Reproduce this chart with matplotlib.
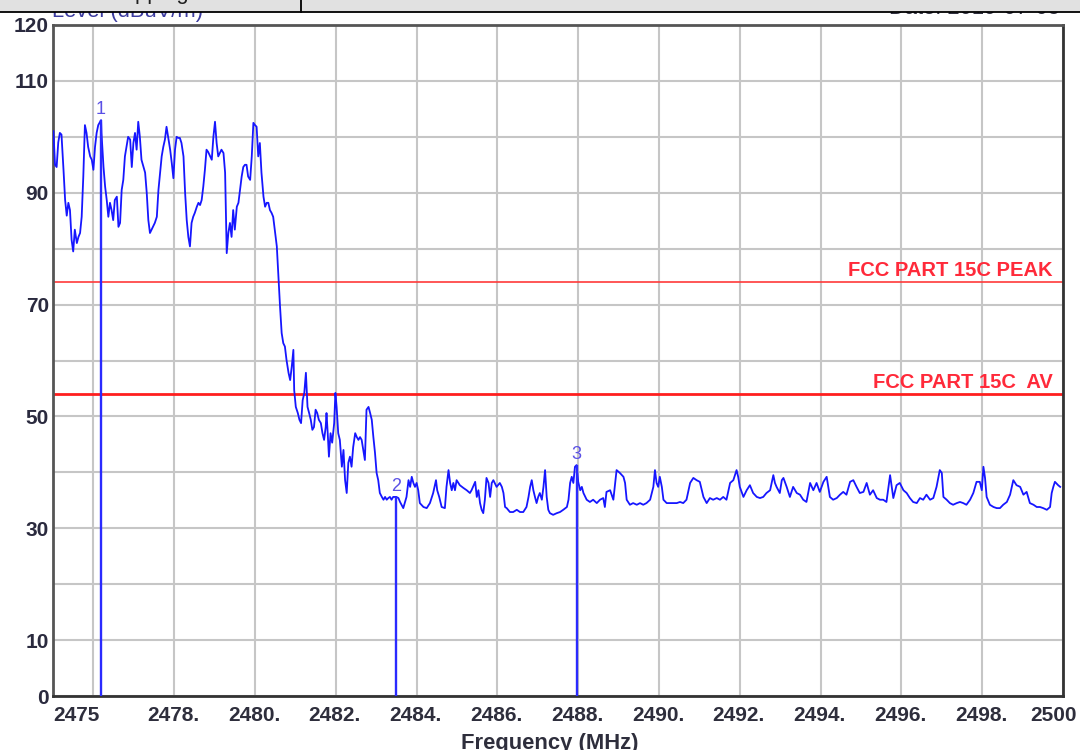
import matplotlib
matplotlib.use("Agg")
import matplotlib.pyplot as plt
from matplotlib.patches import Rectangle
from matplotlib.lines import Line2D
from matplotlib.transforms import Bbox

plt.rcParams['font.family'] = ['Liberation Sans', 'DejaVu Sans']

# ---- measured sweep (frequency in MHz, level in dBuV/m) ----
FREQ_INBAND = [
    2475.01, 2475.05, 2475.09, 2475.13, 2475.17, 2475.21, 2475.26, 2475.30, 2475.34, 2475.38,
    2475.42, 2475.46, 2475.50, 2475.54, 2475.59, 2475.63, 2475.67, 2475.71, 2475.75, 2475.79,
    2475.83, 2475.87, 2475.92, 2475.96, 2476.00, 2476.04, 2476.08, 2476.12, 2476.16, 2476.19,
    2476.20, 2476.25, 2476.29, 2476.33, 2476.37, 2476.41, 2476.45, 2476.49, 2476.53, 2476.58,
    2476.62, 2476.66, 2476.70, 2476.74, 2476.78, 2476.82, 2476.86, 2476.91, 2476.95, 2476.99,
    2477.03, 2477.07, 2477.11, 2477.15, 2477.19, 2477.24, 2477.28, 2477.32, 2477.36, 2477.40,
    2477.44, 2477.48, 2477.52, 2477.57, 2477.61, 2477.65, 2477.69, 2477.73, 2477.77, 2477.81,
    2477.85, 2477.90, 2477.94, 2477.98, 2478.02, 2478.06, 2478.10, 2478.14, 2478.18, 2478.23,
    2478.27, 2478.31, 2478.35, 2478.39, 2478.43, 2478.47, 2478.51, 2478.56, 2478.60, 2478.64,
    2478.68, 2478.72, 2478.76, 2478.80, 2478.84, 2478.89, 2478.93, 2478.97, 2479.01, 2479.05,
    2479.09, 2479.13, 2479.17, 2479.22, 2479.26, 2479.30, 2479.34, 2479.38, 2479.42, 2479.46,
    2479.50, 2479.55, 2479.59, 2479.63, 2479.67, 2479.71, 2479.75, 2479.79, 2479.83, 2479.88,
    2479.92, 2479.96, 2480.00, 2480.04, 2480.08, 2480.12, 2480.16, 2480.21, 2480.25, 2480.29,
    2480.33, 2480.37, 2480.41, 2480.45, 2480.49, 2480.54,
]
LEVEL_INBAND = [
    101.0, 95.0, 94.6, 99.0, 100.7, 100.4, 94.1, 88.7, 85.9, 88.2,
    86.9, 81.6, 79.5, 83.4, 81.0, 82.1, 82.8, 85.7, 92.9, 102.1,
    100.7, 98.2, 96.5, 95.9, 94.1, 98.2, 100.7, 102.1, 102.6, 103.0,
    100.7, 94.6, 91.1, 88.7, 85.7, 88.2, 86.9, 85.1, 88.7, 89.3,
    83.9, 84.6, 90.5, 92.3, 96.5, 98.2, 100.0, 99.5, 94.6, 98.9,
    100.7, 97.7, 102.7, 100.0, 95.9, 94.6, 93.6, 90.0, 85.1, 82.8,
    83.4, 84.0, 84.6, 85.7, 90.5, 93.6, 96.5, 98.2, 99.5, 101.8,
    100.0, 97.7, 95.3, 92.6, 97.7, 100.0, 99.8, 99.8, 98.9, 96.5,
    90.0, 85.1, 82.1, 80.4, 84.6, 85.7, 86.4, 87.5, 88.2, 87.8,
    88.7, 91.1, 94.1, 97.7, 97.3, 96.5, 95.9, 100.0, 102.7, 98.9,
    96.5, 97.1, 97.7, 97.1, 93.6, 79.2, 82.8, 84.6, 82.1, 86.9,
    83.4, 87.5, 88.2, 90.5, 92.9, 94.6, 95.0, 95.0, 92.9, 92.3,
    96.5, 102.5, 102.1, 101.8, 96.5, 98.9, 93.6, 89.3, 87.5, 88.2,
    88.2, 86.9, 86.4, 85.7, 83.4, 80.4,
]

FREQ_EDGE = [
    2480.58, 2480.62, 2480.66, 2480.70, 2480.74, 2480.78, 2480.83, 2480.87, 2480.91, 2480.95,
    2480.97, 2481.01, 2481.06, 2481.10, 2481.14, 2481.18, 2481.22, 2481.26, 2481.30, 2481.34,
    2481.38, 2481.42, 2481.46, 2481.50, 2481.54, 2481.58, 2481.63, 2481.67, 2481.71, 2481.75,
    2481.77, 2481.80, 2481.83, 2481.87, 2481.91, 2481.96, 2481.99, 2482.02, 2482.06, 2482.10,
    2482.15, 2482.19, 2482.23, 2482.27, 2482.31, 2482.35, 2482.39, 2482.43, 2482.48, 2482.52,
    2482.56, 2482.60, 2482.64, 2482.68, 2482.72, 2482.76, 2482.81, 2482.85, 2482.89, 2482.93,
    2482.97, 2483.01, 2483.05, 2483.09, 2483.14, 2483.18, 2483.22, 2483.26, 2483.30, 2483.34,
    2483.38, 2483.42, 2483.47, 2483.50,
]
LEVEL_EDGE = [
    75.0, 69.6, 64.9, 63.1, 62.5, 60.1, 57.8, 56.5, 58.9, 61.9,
    54.7, 51.7, 50.6, 49.4, 48.8, 52.9, 54.2, 57.8, 51.7, 50.6,
    49.4, 47.6, 48.1, 51.2, 50.6, 49.4, 48.8, 47.0, 45.8, 48.1,
    50.6, 47.0, 42.8, 47.0, 45.3, 48.8, 54.2, 51.7, 47.0, 45.8,
    41.0, 44.0, 38.6, 36.3, 41.7, 42.8, 41.0, 44.5, 47.0, 46.3,
    45.8, 46.3, 45.8, 44.0, 42.2, 51.2, 51.7, 50.6, 49.4, 46.3,
    43.5, 39.9, 38.6, 36.3, 35.6, 35.1, 35.6, 35.1, 35.4, 35.6,
    35.1, 35.6, 35.6, 35.6,
]

FREQ_RESTRICTED_LO = [
    2483.55, 2483.59, 2483.67, 2483.75, 2483.80, 2483.84, 2483.88, 2483.92, 2483.96, 2484.00,
    2484.04, 2484.08, 2484.17, 2484.25, 2484.33, 2484.41, 2484.48, 2484.51, 2484.56, 2484.62,
    2484.70, 2484.74, 2484.79, 2484.83, 2484.87, 2484.91, 2484.95, 2484.99, 2485.07, 2485.16,
    2485.24, 2485.32, 2485.36, 2485.45, 2485.49, 2485.53, 2485.57, 2485.61, 2485.65, 2485.69,
    2485.73, 2485.78, 2485.82, 2485.86, 2485.90, 2485.98, 2486.06, 2486.11, 2486.15, 2486.19,
    2486.23, 2486.31, 2486.39, 2486.48, 2486.56, 2486.64, 2486.72, 2486.77, 2486.81, 2486.85,
    2486.89, 2486.93, 2486.97, 2487.01, 2487.05, 2487.10, 2487.14, 2487.18, 2487.22, 2487.26,
    2487.30, 2487.38, 2487.47, 2487.55, 2487.63, 2487.72, 2487.76, 2487.80, 2487.84, 2487.88,
    2487.92, 2487.96, 2488.00, 2488.05, 2488.09, 2488.13, 2488.21, 2488.29, 2488.37, 2488.46,
    2488.54, 2488.62, 2488.66, 2488.70, 2488.79, 2488.87, 2488.95, 2489.03, 2489.12, 2489.16,
    2489.20, 2489.28, 2489.36, 2489.45, 2489.53, 2489.61, 2489.69, 2489.78, 2489.86, 2489.90,
    2489.94, 2489.98, 2490.02, 2490.07, 2490.11, 2490.19, 2490.27, 2490.35, 2490.44, 2490.52,
    2490.60, 2490.68, 2490.77, 2490.85, 2490.93, 2491.01,
]
LEVEL_RESTRICTED_LO = [
    35.4, 34.7, 33.6, 35.6, 38.6, 37.4, 39.2, 38.1, 37.4, 38.1,
    36.8, 34.5, 33.8, 33.6, 34.5, 36.3, 38.6, 36.8, 35.6, 33.8,
    33.6, 37.4, 40.4, 38.1, 36.8, 38.1, 36.8, 38.6, 37.7, 37.2,
    36.8, 36.3, 36.8, 38.3, 35.6, 36.8, 34.5, 33.3, 32.7, 35.1,
    39.0, 38.1, 35.6, 38.1, 38.6, 37.4, 38.1, 37.4, 36.3, 33.8,
    33.6, 32.9, 32.9, 33.3, 32.9, 32.9, 33.8, 35.6, 37.4, 38.6,
    36.8, 35.6, 34.5, 35.6, 36.3, 35.1, 37.4, 40.4, 35.6, 33.3,
    32.7, 32.4, 32.7, 32.9, 33.3, 33.8, 35.1, 38.1, 39.2, 38.1,
    41.0, 41.3, 38.3, 36.8, 37.4, 36.3, 35.1, 34.7, 35.1, 34.5,
    35.1, 35.4, 33.8, 36.5, 36.8, 35.1, 40.4, 39.9, 39.2, 38.1,
    35.1, 34.2, 34.5, 34.2, 34.5, 34.2, 34.5, 35.1, 37.4, 40.4,
    38.1, 37.4, 39.2, 37.4, 35.1, 34.5, 34.5, 34.5, 34.5, 34.7,
    34.5, 35.1, 38.1, 39.0, 38.6, 38.3,
]

FREQ_RESTRICTED_HI = [
    2491.10, 2491.18, 2491.26, 2491.34, 2491.43, 2491.51, 2491.59, 2491.67, 2491.76, 2491.84,
    2491.92, 2491.96, 2492.00, 2492.09, 2492.17, 2492.25, 2492.33, 2492.42, 2492.50, 2492.58,
    2492.66, 2492.75, 2492.83, 2492.87, 2492.91, 2492.99, 2493.04, 2493.08, 2493.16, 2493.24,
    2493.32, 2493.41, 2493.49, 2493.57, 2493.65, 2493.74, 2493.82, 2493.90, 2493.98, 2494.07,
    2494.15, 2494.23, 2494.31, 2494.40, 2494.48, 2494.56, 2494.64, 2494.73, 2494.81, 2494.89,
    2494.97, 2495.06, 2495.14, 2495.22, 2495.30, 2495.39, 2495.47, 2495.55, 2495.63, 2495.72,
    2495.76, 2495.80, 2495.88, 2495.96, 2496.05, 2496.13, 2496.21, 2496.29, 2496.38, 2496.46,
    2496.54, 2496.62, 2496.71, 2496.79, 2496.87, 2496.95, 2497.00, 2497.04, 2497.12, 2497.20,
    2497.28, 2497.37, 2497.45, 2497.53, 2497.61, 2497.70, 2497.78, 2497.86, 2497.94, 2497.99,
    2498.03, 2498.07, 2498.11, 2498.19, 2498.28, 2498.36, 2498.44, 2498.52, 2498.61, 2498.69,
    2498.77, 2498.85, 2498.94, 2499.02, 2499.10, 2499.18, 2499.27, 2499.35, 2499.43, 2499.51,
    2499.60, 2499.68, 2499.72, 2499.76, 2499.80, 2499.88, 2499.93,
]
LEVEL_RESTRICTED_HI = [
    35.6, 34.5, 35.4, 35.1, 35.4, 35.1, 35.6, 35.1, 38.1, 38.6,
    40.4, 39.2, 37.4, 35.6, 36.8, 37.7, 36.3, 35.6, 35.4, 35.6,
    36.3, 36.8, 39.5, 38.1, 37.4, 36.3, 38.6, 39.0, 37.4, 35.6,
    37.4, 36.3, 36.0, 35.1, 34.7, 38.1, 36.8, 38.1, 36.5, 38.3,
    39.2, 35.6, 35.1, 35.4, 36.0, 36.5, 36.0, 38.3, 38.6, 37.4,
    36.3, 36.5, 38.1, 36.0, 36.8, 35.4, 35.1, 35.1, 34.7, 39.5,
    37.4, 35.4, 37.7, 38.1, 36.8, 36.3, 35.4, 34.7, 34.5, 35.4,
    35.1, 36.0, 35.1, 35.4, 37.4, 40.4, 39.9, 35.6, 35.1, 34.5,
    34.2, 34.5, 34.7, 34.5, 34.2, 35.1, 36.3, 38.3, 38.3, 36.8,
    41.0, 39.0, 35.6, 34.2, 33.8, 33.6, 33.6, 34.2, 34.7, 36.0,
    38.6, 37.7, 37.4, 36.0, 36.5, 34.5, 34.2, 33.8, 33.8, 33.6,
    33.3, 33.8, 36.3, 37.4, 38.3, 37.7, 37.4,
]

FREQ = FREQ_INBAND + FREQ_EDGE + FREQ_RESTRICTED_LO + FREQ_RESTRICTED_HI
LEVEL = LEVEL_INBAND + LEVEL_EDGE + LEVEL_RESTRICTED_LO + LEVEL_RESTRICTED_HI

# ---- markers ----
MARKER_IDS = ['1', '2', '3']
MARKER_FREQ = [2476.19, 2483.50, 2487.96]
MARKER_LEVEL = [103.0, 35.6, 41.3]

# ---- limit lines ----
LIMIT_NAMES = ['FCC PART 15C PEAK', 'FCC PART 15C  AV']
LIMIT_LEVELS = [74, 54]

# ---- axes ----
X_MIN, X_MAX = 2475, 2500
Y_MIN, Y_MAX = 0, 120
X_TICKS = [2475, 2476, 2478, 2480, 2482, 2484, 2486, 2488, 2490, 2492, 2494, 2496, 2498, 2500]
X_TICK_LABELS = ['2475', '', '2478.', '2480.', '2482.', '2484.', '2486.', '2488.', '2490.',
                 '2492.', '2494.', '2496.', '2498.', '2500']
Y_TICKS = [0, 10, 20, 30, 40, 50, 60, 70, 80, 90, 100, 110, 120]
Y_TICK_LABELS = ['0', '10', '', '30', '', '50', '', '70', '', '90', '', '110', '120']

X_TITLE = 'Frequency (MHz)'
Y_TITLE = 'Level (dBuV/m)'
HEADER_TEXT = 'Hopping On'
DATE_TEXT = 'Date: 2019-07-05'

W, H = 1080, 750
STRIP = 11.5  # height of the report header strip, pixels
fig = plt.figure(figsize=(W / 100, H / 100), dpi=100)
fig.patch.set_facecolor('white')

ax = fig.add_axes([53 / W, 54 / H, 1010 / W, 671 / H])
ax.set_xlim(X_MIN, X_MAX)
ax.set_ylim(Y_MIN, Y_MAX)

# grid
ax.set_xticks(X_TICKS)
ax.set_xticklabels([''] * len(X_TICKS))
ax.set_yticks(Y_TICKS)
ax.set_yticklabels(Y_TICK_LABELS, fontsize=15, fontweight='bold', color='#2a2a3e')
ax.tick_params(axis='both', length=0)
ax.tick_params(axis='y', pad=3)
ax.grid(True, color='#c6c6c6', linewidth=1.5, zorder=0)
ax.set_axisbelow(True)

for side in ['top', 'left']:
    ax.spines[side].set_color('#555555')
    ax.spines[side].set_linewidth(2.0)
for side in ['bottom', 'right']:
    ax.spines[side].set_color('#333333')
    ax.spines[side].set_linewidth(2.0)

# x tick labels, with the end labels kept inside the frame
for tick, lbl in zip(X_TICKS, X_TICK_LABELS):
    if not lbl:
        continue
    if tick == X_MIN:
        ha, dx = 'left', 0
    elif tick == X_MAX:
        ha, dx = 'right', 14
    else:
        ha, dx = 'center', -1
    ax.annotate(lbl, xy=(tick, 0), xycoords=('data', 'axes fraction'),
                xytext=(dx, -25), textcoords='offset pixels',
                ha=ha, va='baseline', fontsize=15, fontweight='bold',
                color='#2e2e3c', annotation_clip=False)

# limit lines and their names
limit_styles = [dict(color='#ff3a3a', lw=1.2), dict(color='#ff1e1e', lw=2.0)]
for name, lvl, st in zip(LIMIT_NAMES, LIMIT_LEVELS, limit_styles):
    ax.axhline(lvl, color=st['color'], linewidth=st['lw'], zorder=2)
    ax.annotate(name, xy=(1, lvl), xycoords=('axes fraction', 'data'),
                xytext=(-10, 6), textcoords='offset pixels',
                ha='right', va='baseline', fontsize=14.5, fontweight='bold',
                color='#ff2a3a', zorder=3)

# sweep trace
ax.plot(FREQ, LEVEL, color='#1616ff', linewidth=1.3, zorder=4)

# markers
ax.vlines(MARKER_FREQ, 0, MARKER_LEVEL, color='#2a2aff', linewidth=1.7, zorder=5)
for mid, mf, ml in zip(MARKER_IDS, MARKER_FREQ, MARKER_LEVEL):
    ax.annotate(mid, xy=(mf, ml), xytext=(0, 6), textcoords='offset pixels',
                ha='center', va='baseline', fontsize=13, color='#5a50e6', zorder=6)

# axis titles; the upper ones run under the header strip
below_strip = Bbox.from_extents(0, 0, W, H - STRIP)
fig.text(550 / W, 1 / H, X_TITLE, ha='center', va='baseline',
         fontsize=15.8, fontweight='bold', color='#2e2e3c')
for txt in [
    fig.text(52 / W, 1 - 17 / H, Y_TITLE, ha='left', va='baseline',
             fontsize=15.8, color='#3c3ca0', zorder=5),
    fig.text(1060 / W, 1 - 14.5 / H, DATE_TEXT, ha='right', va='baseline',
             fontsize=15.8, color='#303040', zorder=5),
]:
    txt.set_clip_box(below_strip)
    txt.set_clip_on(True)

# report header strip across the top
fig.patches.append(Rectangle((0, 1 - STRIP / H), 1, STRIP / H, transform=fig.transFigure,
                             facecolor='#e1e1e1', edgecolor='none', zorder=10))
fig.lines.append(Line2D([0, 1], [1 - STRIP / H, 1 - STRIP / H], transform=fig.transFigure,
                        color='black', linewidth=1.3, zorder=11))
fig.lines.append(Line2D([301 / W, 301 / W], [1 - STRIP / H, 1], transform=fig.transFigure,
                        color='black', linewidth=1.3, zorder=11))
fig.text(165 / W, 1 + 0.5 / H, HEADER_TEXT, ha='center', va='baseline',
         fontsize=15.8, color='#202020', zorder=12)

fig.savefig('out.png', dpi=100)
